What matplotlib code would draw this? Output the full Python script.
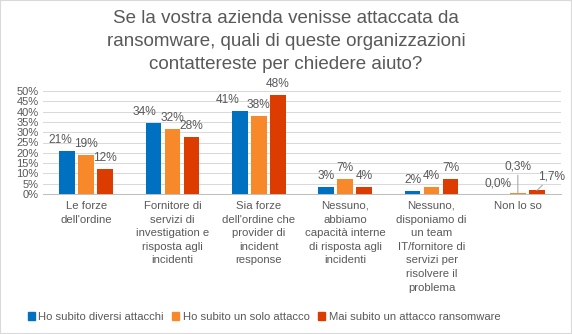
import matplotlib
matplotlib.use("Agg")
import matplotlib.pyplot as plt
import numpy as np
from matplotlib.patches import Patch, Rectangle

plt.rcParams['font.family'] = ['Liberation Sans', 'DejaVu Sans']

title = "Se la vostra azienda venisse attaccata da\nransomware, quali di queste organizzazioni\ncontattereste per chiedere aiuto?"
categories = [
    "Le forze\ndell'ordine",
    "Fornitore di\nservizi di\ninvestigation e\nrisposta agli\nincidenti",
    "Sia forze\ndell'ordine che\nprovider di\nincident\nresponse",
    "Nessuno,\nabbiamo\ncapacità interne\ndi risposta agli\nincidenti",
    "Nessuno,\ndisponiamo di\nun team\nIT/fornitore di\nservizi per\nrisolvere il\nproblema",
    "Non lo so",
]
series_names = ["Ho subito diversi attacchi", "Ho subito un solo attacco", "Mai subito un attacco ransomware"]
diversi = [20.7, 34.3, 40.4, 3.2, 1.6, 0.0]
solo = [19.1, 31.7, 38.0, 7.1, 3.5, 0.3]
mai = [12.3, 27.8, 47.9, 3.6, 7.1, 1.7]
labels_diversi = ["21%", "34%", "41%", "3%", "2%", "0,0%"]
labels_solo = ["19%", "32%", "38%", "7%", "4%", "0,3%"]
labels_mai = ["12%", "28%", "48%", "4%", "7%", "1,7%"]
yticks = [0, 5, 10, 15, 20, 25, 30, 35, 40, 45, 50]

colors = ["#0070C0", "#F7892A", "#DC3C00"]
text_col = "#595959"

fig = plt.figure(figsize=(5.72, 3.34), dpi=100)
ax = fig.add_axes([43/572, 1-194/334, (561-43)/572, (194-91)/334])

x = np.arange(len(categories))
w = 0.18
pitch = 0.22
series = [diversi, solo, mai]
labels = [labels_diversi, labels_solo, labels_mai]
# label offsets in pixels (dx, dy above bar top) -- style only
offsets = [
    [(-7, 0), (-9, 0), (-12, 0), (0, 0), (0, 0), (-1, 0)],
    [(0, 0), (0, 0), (0, 0), (0, 0), (0, 0), (0, 16)],
    [(0, 0), (0, 0), (0, 0), (0, 0), (0, 0), (15, 3)],
]
for i, (vals, col) in enumerate(zip(series, colors)):
    xs = x + (i - 1) * pitch
    ax.bar(xs, vals, width=w, color=col, zorder=3)
    for j, (xx, v) in enumerate(zip(xs, vals)):
        dx, dy = offsets[i][j]
        base = 5
        if dy > 0:
            ax.annotate(labels[i][j], xy=(xx, v), xytext=(dx*0.72, (base+dy)*0.72),
                        textcoords='offset points', ha='center', va='bottom',
                        fontsize=8.6, color=text_col,
                        arrowprops=dict(arrowstyle='-', color='#A6A6A6', lw=0.75,
                                        shrinkA=0, shrinkB=0))
        else:
            ax.annotate(labels[i][j], xy=(xx, v), xytext=(dx*0.72, base*0.72),
                        textcoords='offset points', ha='center', va='bottom',
                        fontsize=8.6, color=text_col)

ax.set_xlim(-0.5, len(categories) - 0.5)
ax.set_ylim(0, 50)
ax.set_yticks(yticks)
ax.set_yticklabels([f"{t}%" for t in yticks], fontsize=8.0, color=text_col)
ax.set_xticks(x)
ax.set_xticklabels(categories, fontsize=8.2, color=text_col, linespacing=1.45, va='top')
ax.tick_params(axis='both', length=0, pad=3)
ax.tick_params(axis='x', pad=5)
ax.yaxis.grid(True, color='#D9D9D9', lw=0.75, zorder=0)
ax.set_axisbelow(True)
for s in ['top', 'right', 'left']:
    ax.spines[s].set_visible(False)
ax.spines['bottom'].set_color('#BFBFBF')
ax.spines['bottom'].set_linewidth(0.75)

fig.text(0.5, 1-10/334, title, ha='center', va='top', fontsize=13.5, color=text_col, linespacing=1.45)

handles = [Patch(color=c) for c in colors]
fig.legend(handles, series_names, loc='center', bbox_to_anchor=(264/572, 1-317/334), ncol=3,
           frameon=False, fontsize=8.1, handlelength=0.6, handleheight=0.6, handletextpad=0.3,
           columnspacing=0.8, labelcolor=text_col)

fig.patches.append(Rectangle((0, 0), 1, 1, transform=fig.transFigure, fill=False,
                             edgecolor='#D9D9D9', lw=1.5))
fig.savefig("out.png", dpi=100)
